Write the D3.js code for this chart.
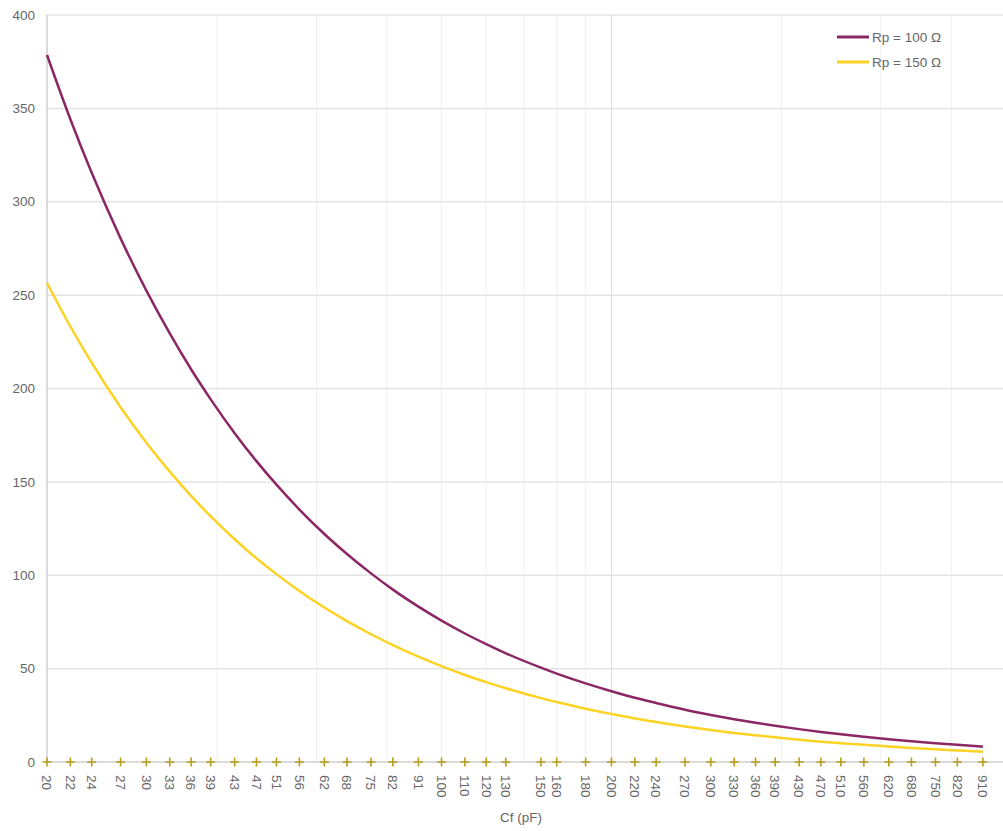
<!DOCTYPE html>
<html>
<head>
<meta charset="utf-8">
<script src="https://cdn.jsdelivr.net/npm/d3@7"></script>
<style>
  body { margin: 0; background: #fff; }
  text { font-family: "Liberation Sans", Arial, sans-serif; fill: #666; }
</style>
</head>
<body>
<svg width="1003" height="831"></svg>
<script>
'use strict'

// capacitor values (pF) on the x axis
const cf = [20, 22, 24, 27, 30, 33, 36, 39, 43, 47, 51, 56, 62, 68, 75, 82, 91,
  100, 110, 120, 130, 150, 160, 180, 200, 220, 240, 270, 300, 330, 360, 390,
  430, 470, 510, 560, 620, 680, 750, 820, 910]

const rp100 = [378.6, 344.2, 315.5, 280.4, 252.4, 229.5, 210.3, 194.2, 176.1, 161.1,
  148.5, 135.2, 122.1, 111.4, 101.0, 92.3, 83.2, 75.7, 68.8, 63.1, 58.2, 50.5, 47.3,
  42.1, 37.9, 34.4, 31.6, 28.0, 25.2, 22.9, 21.0, 19.4, 17.6, 16.1, 14.8, 13.5, 12.2,
  11.1, 10.1, 9.2, 8.2]

const rp150 = [256.5, 233.2, 213.8, 190.0, 171.0, 155.5, 142.5, 131.5, 119.3, 109.1,
  100.6, 91.6, 82.7, 75.4, 68.4, 62.6, 56.4, 51.3, 46.6, 42.8, 39.5, 34.2, 32.1,
  28.5, 25.7, 23.3, 21.4, 19.0, 17.1, 15.5, 14.3, 13.2, 11.9, 10.9, 10.1, 9.2, 8.3,
  7.5, 6.8, 6.2, 5.5]

const xGrid = [40, 60, 80, 100, 120, 140, 160, 180, 200, 400, 600, 800]
const yTicks = [0, 50, 100, 150, 200, 250, 300, 350, 400]

const series = [
  { name: 'Rp = 100 Ω', values: rp100, color: '#8c2766' },
  { name: 'Rp = 150 Ω', values: rp150, color: '#fdd323' }
]

const m = { left: 47, right: 1006, top: 15, bottom: 762 }
const fontSize = '13.5px'

const x = d3.scaleLog().domain([20, 1000]).range([m.left, m.right])
const y = d3.scaleLinear().domain([0, 400]).range([m.bottom, m.top])

const svg = d3.select('svg')

// vertical grid
svg.append('g').selectAll('line').data(xGrid)
  .enter().append('line')
  .attr('x1', (d) => x(d)).attr('x2', (d) => x(d))
  .attr('y1', m.top).attr('y2', m.bottom)
  .style('stroke', (d) => d === 200 ? '#dcdcdc' : '#f0f0f0')
  .style('stroke-width', 1)

// horizontal grid
svg.append('g').selectAll('line').data(yTicks)
  .enter().append('line')
  .attr('x1', m.left).attr('x2', 1003)
  .attr('y1', (d) => y(d)).attr('y2', (d) => y(d))
  .style('stroke', (d) => d === 0 ? '#cfcfcf' : '#e4e4e4')
  .style('stroke-width', 1.5)

// left axis line
svg.append('line')
  .attr('x1', m.left).attr('x2', m.left).attr('y1', m.top).attr('y2', m.bottom)
  .style('stroke', '#cfcfcf').style('stroke-width', 1.5)

// y labels
svg.append('g').selectAll('text').data(yTicks)
  .enter().append('text')
  .attr('x', 35).attr('y', (d) => y(d))
  .attr('dy', '0.35em')
  .attr('text-anchor', 'end')
  .style('font-size', fontSize)
  .text((d) => d)

// x labels
svg.append('g').selectAll('text').data(cf)
  .enter().append('text')
  .attr('transform', (d) => `translate(${x(d)},${m.bottom + 13}) rotate(90)`)
  .attr('dy', '0.35em')
  .attr('text-anchor', 'start')
  .style('font-size', fontSize)
  .text((d) => d)

svg.append('text')
  .attr('x', 521).attr('y', 822)
  .attr('text-anchor', 'middle')
  .style('font-size', fontSize)
  .text('Cf (pF)')

// curves
const line = d3.line()
  .x((d, i) => x(cf[i]))
  .y((d) => y(d))
  .curve(d3.curveMonotoneX)

svg.append('g').selectAll('path').data(series)
  .enter().append('path')
  .attr('d', (d) => line(d.values))
  .style('fill', 'none')
  .style('stroke', (d) => d.color)
  .style('stroke-width', 2.5)

// cross markers along the x axis
const marks = svg.append('g').selectAll('g').data(cf)
  .enter().append('g')
  .attr('transform', (d) => `translate(${x(d)},${m.bottom})`)
marks.append('path')
  .attr('d', 'M-4.5,0H4.5M0,-4.5V4.5')
  .style('stroke', '#b89d1f')
  .style('stroke-width', 1.6)

// legend
const legend = svg.append('g').selectAll('g').data(series)
  .enter().append('g')
  .attr('transform', (d, i) => `translate(837,${37 + i * 25})`)
legend.append('line')
  .attr('x1', 0).attr('x2', 32)
  .style('stroke', (d) => d.color)
  .style('stroke-width', 3)
legend.append('text')
  .attr('x', 35).attr('dy', '0.35em')
  .style('font-size', fontSize)
  .text((d) => d.name)
</script>
</body>
</html>
